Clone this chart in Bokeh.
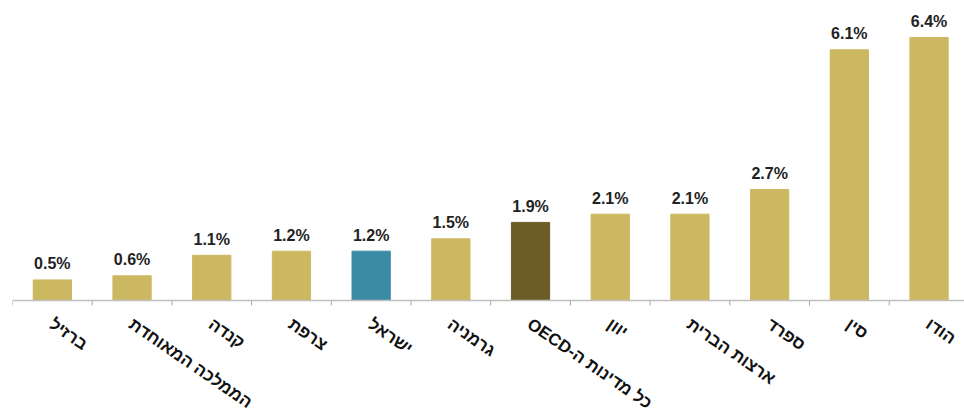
import math
from bokeh.plotting import figure
from bokeh.models import Range1d, ColumnDataSource, Span
from bokeh.core.properties import value
from bokeh.embed import file_html
from bokeh.resources import INLINE

categories = ["ברזיל", "הממלכה המאוחדת", "קנדה", "צרפת", "ישראל", "גרמניה",
              "\u202bכל מדינות ה-OECD\u202c", "יוון", "ארצות הברית", "ספרד", "סין", "הודו"]
values = [0.5, 0.6, 1.1, 1.2, 1.2, 1.5, 1.9, 2.1, 2.1, 2.7, 6.1, 6.4]
colors = ["#CDB862", "#CDB862", "#CDB862", "#CDB862", "#3B8BA6", "#CDB862",
          "#6C5C27", "#CDB862", "#CDB862", "#CDB862", "#CDB862", "#CDB862"]
value_labels = [f"{v:.1f}%" for v in values]

n = len(categories)
xs = [i + 0.5 for i in range(n)]
boundaries = list(range(n + 1))
src = ColumnDataSource(dict(x=xs, top=values, base=[0] * n, color=colors,
                            label=value_labels, cat=categories))

ppu = 41.1  # pixels per percentage point
p = figure(width=964, height=415, output_backend="svg", toolbar_location=None,
           x_axis_location=None, y_axis_location=None,
           x_range=Range1d(0, 11.945), y_range=Range1d(-115 / ppu, 300 / ppu),
           min_border_left=12, min_border_right=0, min_border_top=0, min_border_bottom=0)

p.grid.visible = False
p.outline_line_color = None

p.vbar(x="x", top="top", bottom="base", width=0.48, color="color", source=src)
p.text(x="x", y="top", text="label", source=src, y_offset=-16,
       text_align="center", text_baseline="alphabetic",
       text_font=value("Liberation Sans"), text_font_style="bold",
       text_font_size="16px", text_color="#222222")

# category axis: baseline, boundary ticks and slanted labels
p.add_layout(Span(location=0, dimension="width", line_color="#BFBFBF", line_width=1.5))
p.ray(x=boundaries, y=[0] * (n + 1), length=5, length_units="screen",
      angle=-math.pi / 2, line_color="#A6A6A6", line_width=1)
p.text(x="x", y="base", text="cat", source=src, angle=-0.6,
       x_offset=4, y_offset=14, text_align="left", text_baseline="top",
       text_font=value("Liberation Sans"), text_font_style="bold",
       text_font_size="17px", text_color="#111111")

open("out.html", "w").write(file_html(p, INLINE))
